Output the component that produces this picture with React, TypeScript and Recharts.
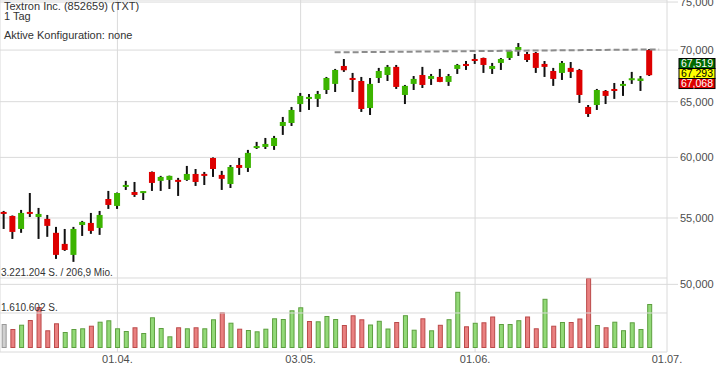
import React from 'react';
import { ComposedChart, Bar, XAxis, YAxis, CartesianGrid, ReferenceLine } from 'recharts';

const FONT = '"Liberation Sans", Arial, Helvetica, sans-serif';

// daily OHLC
const opens = [
  55.42, 55.16, 54.14, 55.42, 55.08, 54.93, 53.84, 52.99, 52.16, 54.45,
  54.61, 54.22, 56.52, 55.96, 57.57, 57.09, 57.07, 58.76, 58.01, 58.09,
  58.03, 58.09, 58.59, 58.53, 59.95, 58.51, 57.75, 59.35, 59.10, 60.88,
  60.91, 60.99, 62.77, 63.04, 64.78, 65.33, 65.26, 66.10, 66.68, 68.42,
  67.17, 66.96, 64.41, 67.25, 67.54, 68.33, 65.63, 66.68, 67.54, 67.16,
  67.35, 66.87, 68.13, 68.54, 69.03, 69.21, 68.13, 68.72, 69.21, 70.01,
  69.61, 69.71, 68.62, 67.93, 67.74, 68.23, 68.03, 64.51, 64.69, 66.01,
  66.12, 66.49, 67.12, 66.96, 70.01,
];
const highs = [
  55.56, 55.20, 55.64, 57.01, 55.80, 55.24, 54.30, 54.14, 54.30, 54.77,
  55.40, 55.56, 57.18, 57.05, 58.01, 57.92, 57.12, 58.80, 58.43, 58.45,
  58.26, 59.27, 59.01, 58.76, 60.00, 58.85, 59.35, 59.95, 60.65, 61.35,
  61.70, 61.88, 63.59, 64.51, 65.82, 65.72, 66.01, 67.35, 68.13, 69.11,
  67.74, 67.35, 67.25, 68.23, 68.52, 68.52, 66.58, 67.44, 68.33, 67.64,
  68.13, 67.64, 68.62, 68.91, 69.61, 69.25, 68.72, 69.21, 69.95, 70.71,
  69.81, 69.81, 68.91, 68.23, 68.91, 68.81, 68.13, 64.69, 66.20, 66.10,
  66.77, 66.96, 67.84, 67.44, 70.11,
];
const lows = [
  54.14, 53.37, 53.84, 55.08, 53.37, 53.53, 51.86, 52.46, 51.64, 53.60,
  53.76, 53.68, 55.72, 55.72, 57.26, 56.69, 56.44, 57.18, 57.18, 57.34,
  56.77, 58.01, 57.59, 57.67, 58.34, 57.26, 57.42, 58.51, 58.76, 60.73,
  60.73, 60.65, 61.97, 62.77, 64.05, 64.23, 64.51, 65.72, 65.91, 67.84,
  65.91, 64.05, 63.77, 66.77, 66.96, 66.20, 64.78, 66.10, 66.29, 66.58,
  66.85, 66.49, 67.64, 68.03, 68.62, 67.74, 67.64, 68.03, 69.01, 69.41,
  68.81, 67.74, 67.35, 66.49, 67.06, 67.25, 64.88, 63.59, 64.23, 64.78,
  65.26, 65.54, 66.68, 66.01, 67.44,
];
const closes = [
  55.38, 53.91, 55.40, 55.38, 55.32, 54.38, 52.16, 52.53, 54.14, 54.69,
  53.99, 55.24, 56.04, 57.01, 57.61, 56.85, 57.10, 57.84, 58.34, 58.43,
  57.99, 58.59, 57.92, 58.49, 59.01, 58.18, 59.18, 59.10, 60.39, 60.92,
  61.17, 61.70, 63.13, 64.23, 65.54, 65.37, 65.72, 67.25, 68.03, 68.00,
  67.14, 64.32, 66.68, 67.93, 68.33, 66.39, 66.49, 67.16, 66.58, 67.44,
  66.87, 67.44, 68.52, 68.50, 68.99, 68.52, 68.42, 69.11, 69.91, 70.31,
  69.01, 68.23, 68.33, 67.16, 68.72, 67.84, 65.63, 63.86, 66.10, 65.54,
  66.08, 66.68, 67.14, 67.20, 67.52,
];
const volumes = [
  1104000, 874000, 1072000, 1288000, 1887000, 815000, 1137000, 736000, 874000, 907000,
  1026000, 1210000, 1275000, 907000, 782000, 953000, 690000, 1413000, 920000, 538000,
  953000, 907000, 953000, 907000, 1321000, 1643000, 1164000, 888000, 828000, 768000,
  888000, 1367000, 1334000, 1735000, 1873000, 1242000, 1229000, 1473000, 1334000, 1058000,
  1505000, 1321000, 1081000, 1252000, 897000, 1196000, 1509000, 842000, 1367000, 815000,
  1068000, 1325000, 2586000, 999000, 1160000, 1183000, 1450000, 1104000, 1104000, 1279000,
  1450000, 907000, 2264000, 1026000, 1196000, 1196000, 1358000, 3221204, 1058000, 953000,
  1210000, 819000, 1183000, 874000, 2025000,
];

const dateTicks = [13, 34, 54, 76];
const dateLabels = ['01.04.', '03.05.', '01.06.', '01.07.'];
const priceTicks = [50, 55, 60, 65, 70, 75];
const quotes = [67.519, 67.293, 67.068];
const trendLine = [{ i: 37.9, price: 69.77 }, { i: 75.1, price: 70.07 }];
const volMax = 3221204;
const volMaxLabel = '3.221.204 S. / 206,9 Mio.';
const volHalfLabel = '1.610.602 S.';

const GREEN = '#3cb400';
const RED = '#dd0000';
const GRID = '#dadada';

const rows = opens.map((open, i) => ({
  i,
  open,
  high: highs[i],
  low: lows[i],
  close: closes[i],
  range: [lows[i], highs[i]],
  volume: volumes[i],
  dir: i === 0 ? 0 : closes[i] > closes[i - 1] ? 1 : -1,
}));

const fmtPrice = (v: number) => v.toFixed(3).replace('.', ',');
const fmtDate = (v: number) => dateLabels[dateTicks.indexOf(v)] ?? '';

function Candle(props: any) {
  const { x, y, width, height, payload } = props;
  if (!payload || x == null) return null;
  const { open, close, high, low } = payload;
  const top = Math.min(y, y + height);
  const h = Math.abs(height);
  const cx = x + width / 2;
  const span = Math.log(high) - Math.log(low);
  // log axis: place open/close between the high and low ends of the bar
  const toY = (v: number) => (span > 0 ? top + (h * (Math.log(high) - Math.log(v))) / span : top);
  const yTop = toY(Math.max(open, close));
  const yBot = toY(Math.min(open, close));
  const color = close >= open ? GREEN : RED;
  const bodyH = yBot - yTop;
  return (
    <g>
      <line x1={cx} x2={cx} y1={top} y2={top + h} stroke="#111" strokeWidth={2} />
      <rect
        x={cx - 3}
        y={bodyH < 2 ? (yTop + yBot) / 2 - 1 : yTop}
        width={6}
        height={Math.max(bodyH, 2)}
        fill={color}
      />
    </g>
  );
}

function VolumeBar(props: any) {
  const { x, y, width, height, payload } = props;
  if (!payload || x == null) return null;
  const fill = payload.dir > 0 ? '#92d977' : payload.dir < 0 ? '#e98080' : '#d0d0d0';
  const stroke = payload.dir > 0 ? '#5d9f3f' : payload.dir < 0 ? '#bb4a4a' : '#999';
  return <rect x={x + 0.5} y={y + 0.5} width={width - 1} height={Math.max(height - 1, 0)} fill={fill} stroke={stroke} />;
}

const volLabel = (text: string) => (props: any) => {
  const vb = props.viewBox;
  return (
    <text x={vb.x + 1} y={vb.y - 1.5} fontSize={10} fill="#333" fontFamily={FONT}>
      {text}
    </text>
  );
};

const quoteTags = (props: any) => {
  const vb = props.viewBox;
  const left = vb.x + vb.width + 12;
  const mid = vb.y - 4;
  const fills = ['#006a00', '#ffff00', '#dd0000'];
  const inks = ['#fff', '#000', '#fff'];
  return (
    <g>
      {quotes.map((q, k) => {
        const top = mid - 5 + (k - 1) * 10;
        return (
          <g key={k}>
            <rect x={left} y={top} width={36} height={10} fill={fills[k]} stroke="#000" strokeWidth={1} />
            <text x={left + 18} y={top + 8.8} textAnchor="middle" fontSize={10.5} fill={inks[k]} fontFamily={FONT}>
              {fmtPrice(q)}
            </text>
          </g>
        );
      })}
    </g>
  );
};

export default function App() {
  return (
    <div style={{ position: 'absolute', left: 0, top: 0, width: 721, height: 368, background: '#fff', fontFamily: FONT }}>
      <ComposedChart width={721} height={368} data={rows} margin={{ top: 0, right: 0, bottom: 0, left: 0 }}>
        <XAxis
          xAxisId="main"
          dataKey="i"
          type="number"
          domain={[-0.46, 76]}
          allowDataOverflow
          ticks={dateTicks}
          tickFormatter={fmtDate}
          height={16}
          tickLine={false}
          axisLine={false}
          tickSize={3}
          tickMargin={0}
          tick={{ fill: '#4d4d4d', fontSize: 11 }}
          interval={0}
        />
        <XAxis xAxisId="vol" dataKey="i" type="number" domain={[-0.46, 76]} allowDataOverflow hide />
        <YAxis
          yAxisId="price"
          orientation="right"
          type="number"
          scale="log"
          domain={[45.37, 75.22]}
          allowDataOverflow
          ticks={priceTicks}
          tickFormatter={fmtPrice}
          width={54}
          axisLine={false}
          tickLine={{ stroke: GRID }}
          tickSize={11}
          tick={{ fill: '#4d4d4d', fontSize: 11 }}
          interval={0}
        />
        <YAxis yAxisId="vol" type="number" domain={[-184068, 16013916]} allowDataOverflow hide />
        <CartesianGrid xAxisId="main" yAxisId="price" stroke={GRID} />
        <ReferenceLine xAxisId="vol" yAxisId="vol" y={volMax} stroke={GRID} label={volLabel(volMaxLabel)} />
        <ReferenceLine xAxisId="vol" yAxisId="vol" y={volMax / 2} stroke={GRID} label={volLabel(volHalfLabel)} />
        <Bar xAxisId="vol" yAxisId="vol" dataKey="volume" barSize={5} shape={VolumeBar} isAnimationActive={false} />
        <ReferenceLine
          xAxisId="main"
          yAxisId="price"
          segment={[{ x: trendLine[0].i, y: trendLine[0].price }, { x: trendLine[1].i, y: trendLine[1].price }]}
          stroke="#8c8c8c"
          strokeWidth={2}
          strokeDasharray="6 3"
        />
        <Bar xAxisId="main" yAxisId="price" dataKey="range" barSize={6} shape={Candle} isAnimationActive={false} />
        <ReferenceLine
          xAxisId="main"
          yAxisId="price"
          y={quotes[1]}
          stroke="none"
          ifOverflow="visible"
          label={quoteTags}
        />
      </ComposedChart>
      <svg width={721} height={45} style={{ position: 'absolute', left: 0, top: 0, pointerEvents: 'none' }}>
        <g fontSize={11} fill="#333" fontFamily={FONT}>
          <text x={4} y={9.5}>Textron Inc. (852659) (TXT)</text>
          <text x={4} y={20}>1 Tag</text>
          <text x={4} y={39}>Aktive Konfiguration: none</text>
        </g>
      </svg>
    </div>
  );
}
